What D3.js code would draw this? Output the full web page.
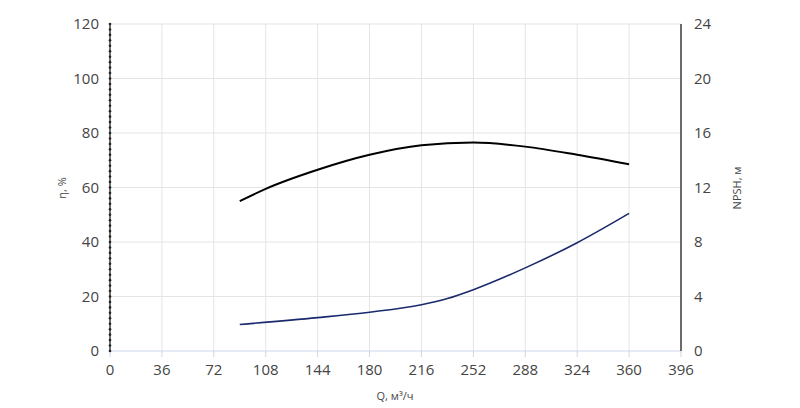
<!DOCTYPE html>
<html><head><meta charset="utf-8">
<script src="https://cdn.jsdelivr.net/npm/d3@7"></script>
<style>body{margin:0;background:#fff}text{font-family:"Open Sans",sans-serif}</style>
</head><body><div id="chart"></div>
<script>
const xTicks = [0, 36, 72, 108, 144, 180, 216, 252, 288, 324, 360, 396]
const effQ = [90, 108, 144, 180, 216, 252, 288, 324, 360]
const effVal = [55, 59.5, 66.5, 72, 75.5, 76.5, 75, 72, 68.5]
const npshQ = [90, 144, 180, 216, 234, 252, 288, 324, 360]
const npshVal = [1.95, 2.45, 2.85, 3.4, 3.85, 4.5, 6.1, 7.95, 10.1]

const svg = d3.select('#chart').append('svg').attr('width', 800).attr('height', 408)
const x = d3.scaleLinear().domain([0, 396]).range([110, 681])
const yL = d3.scaleLinear().domain([0, 120]).range([351, 24])
const yR = d3.scaleLinear().domain([0, 24]).range([351, 24])

// grid
svg.selectAll('.gx').data(xTicks.slice(1)).enter().append('line')
  .attr('x1', d => x(d)).attr('x2', d => x(d)).attr('y1', 24).attr('y2', 351)
  .attr('stroke', '#e4e4e4')
svg.selectAll('.gy').data(d3.range(20, 121, 20)).enter().append('line')
  .attr('x1', 110).attr('x2', 681).attr('y1', d => yL(d)).attr('y2', d => yL(d))
  .attr('stroke', '#e4e4e4')

// bottom axis
svg.append('line').attr('x1', 110).attr('x2', 681).attr('y1', 351).attr('y2', 351).attr('stroke', '#cdd6ea')
svg.selectAll('.xt').data(xTicks).enter().append('line')
  .attr('x1', d => x(d)).attr('x2', d => x(d)).attr('y1', 351).attr('y2', 357).attr('stroke', '#cdd6ea')
svg.selectAll('.xl').data(xTicks).enter().append('text')
  .attr('x', d => x(d)).attr('y', 375).attr('text-anchor', 'middle')
  .attr('font-size', 15).attr('fill', '#444').text(d => d)

// left axis
svg.append('line').attr('x1', 110).attr('x2', 110).attr('y1', 24).attr('y2', 351).attr('stroke', '#222').attr('stroke-width', 1.3)
svg.selectAll('.ld').data(d3.range(0, 121, 2)).enter().append('circle')
  .attr('cx', 110).attr('cy', d => yL(d)).attr('r', 1.3).attr('fill', '#222')
svg.selectAll('.yl').data(d3.range(0, 121, 20)).enter().append('text')
  .attr('x', 99).attr('y', d => yL(d) + 5).attr('text-anchor', 'end')
  .attr('font-size', 15).attr('fill', '#444').text(d => d)

// right axis
svg.append('line').attr('x1', 681).attr('x2', 681).attr('y1', 24).attr('y2', 351).attr('stroke', '#222').attr('stroke-width', 1.3)
svg.selectAll('.yr').data(d3.range(0, 25, 4)).enter().append('text')
  .attr('x', 694).attr('y', d => yR(d) + 5).attr('text-anchor', 'start')
  .attr('font-size', 15).attr('fill', '#444').text(d => d)

// titles
svg.append('text').attr('x', 395).attr('y', 400).attr('text-anchor', 'middle')
  .attr('font-size', 11).attr('fill', '#444').text('Q, м³/ч')
svg.append('text').attr('transform', 'translate(66,188) rotate(-90)').attr('text-anchor', 'middle')
  .attr('font-size', 11).attr('fill', '#444').text('η, %')
svg.append('text').attr('transform', 'translate(741,188) rotate(-90)').attr('text-anchor', 'middle')
  .attr('font-size', 11).attr('fill', '#444').text('NPSH, м')

// curves
svg.append('path').datum(effQ.map((q, i) => [q, effVal[i]]))
  .attr('d', d3.line().x(d => x(d[0])).y(d => yL(d[1])).curve(d3.curveMonotoneX))
  .attr('fill', 'none').attr('stroke', '#000').attr('stroke-width', 2)
svg.append('path').datum(npshQ.map((q, i) => [q, npshVal[i]]))
  .attr('d', d3.line().x(d => x(d[0])).y(d => yR(d[1])).curve(d3.curveMonotoneX))
  .attr('fill', 'none').attr('stroke', '#1a2a6c').attr('stroke-width', 1.6)
</script></body></html>
